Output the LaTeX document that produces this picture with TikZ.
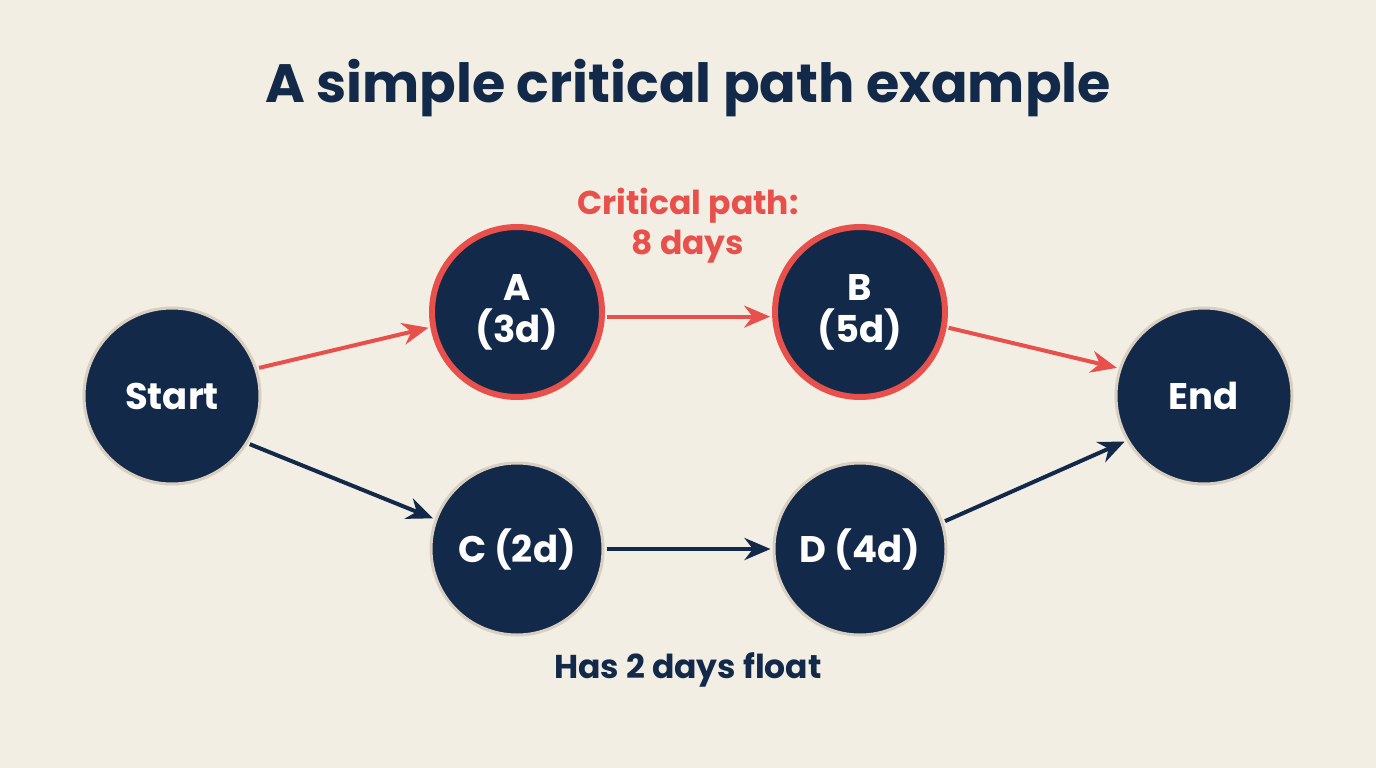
\documentclass[tikz,border=0pt]{standalone}
\usepackage{fontspec}
\setmainfont{Poppins}
\usetikzlibrary{arrows.meta}
\definecolor{bg}{HTML}{F3EEE3}
\definecolor{navy}{HTML}{12294A}
\definecolor{cred}{HTML}{E8504C}
\definecolor{ring}{HTML}{D9CFC0}
\begin{document}
\begin{tikzpicture}[x=1pt,y=-1pt,
  nd/.style={circle,fill=navy,draw=ring,line width=3pt,minimum size=#1,inner sep=0pt,text=white,font=\fontsize{37}{42}\selectfont\bfseries,align=center},
  crit/.style={nd=#1,draw=cred,line width=6pt},
  arr/.style={line width=4pt,-{Stealth[length=26pt,width=22pt]},shorten <=2pt,shorten >=2pt},
  lbl/.style={font=\fontsize{33}{40}\selectfont\bfseries,align=center}]
\fill[bg] (0,0) rectangle (1376,768);
\useasboundingbox (0,0) rectangle (1376,768);
\node[font=\fontsize{54}{62}\selectfont\bfseries,text=navy] (title) at (688,88) {A simple critical path example};
\node[nd=176pt] (S) at (172,396) {Start};
\node[crit=170pt] (A) at (517,312) {A\\(3d)};
\node[crit=170pt] (B) at (860,312) {B\\(5d)};
\node[nd=176pt] (E) at (1204,396) {End};
\node[nd=172pt] (C) at (517,549) {C (2d)};
\node[nd=172pt] (D) at (860,549) {D (4d)};
\node[lbl,text=cred] (cp) at (688,226) {Critical path:\\8 days};
\node[lbl,text=navy] (fl) at (688,670) {Has 2 days float};
\draw[arr,cred] (S.18) -- (A.190);
\draw[arr,cred] (A.-3) -- (B.183);
\draw[arr,cred] (B.-10) -- (E.162);
\draw[arr,navy] (S.-32) -- (C.160);
\draw[arr,navy] (C.0) -- (D.180);
\draw[arr,navy] (D.18) -- (E.-150);
\end{tikzpicture}
\end{document}
